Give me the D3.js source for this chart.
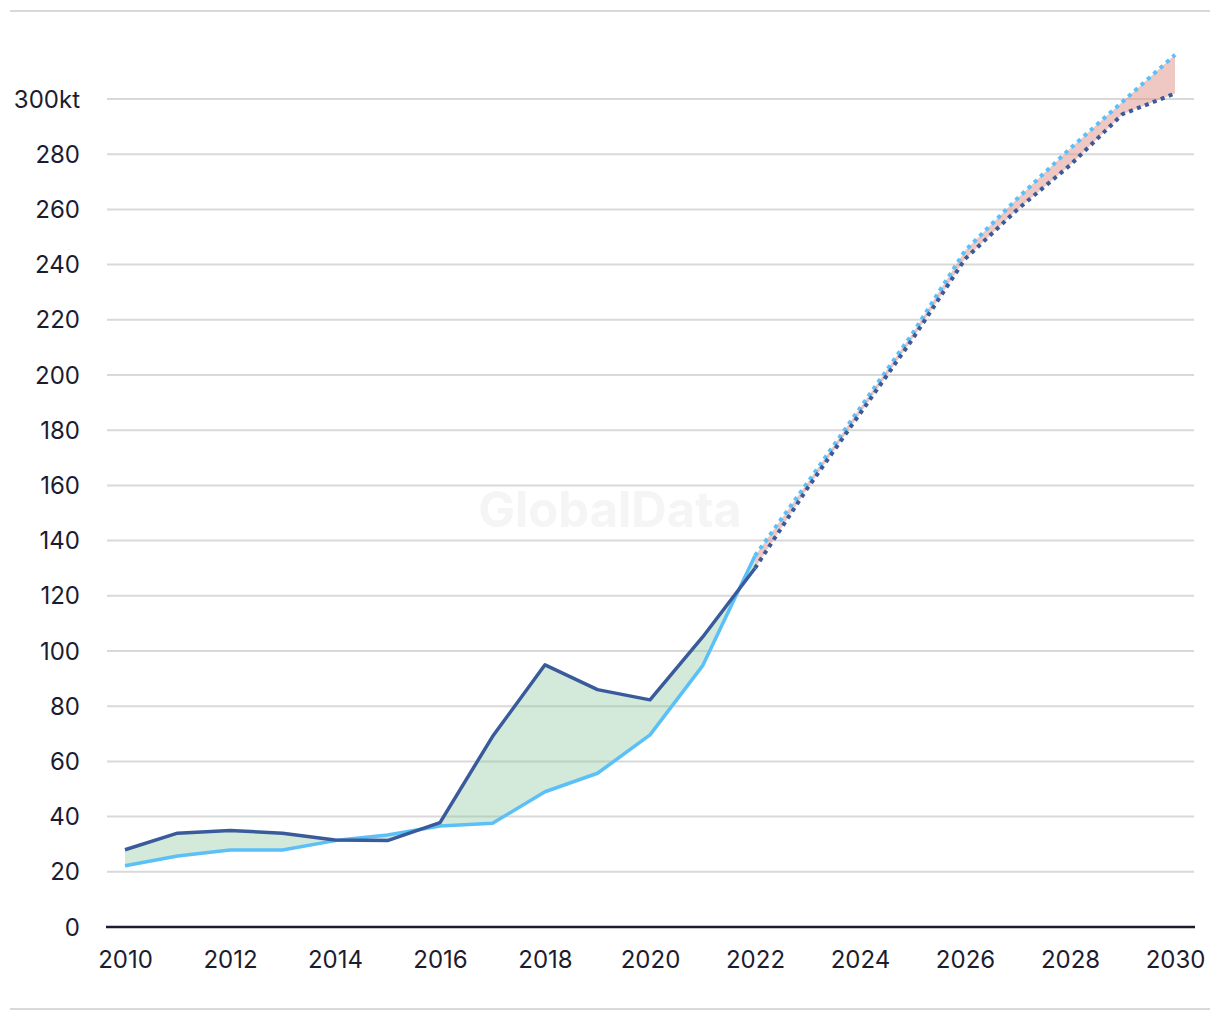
<!DOCTYPE html>
<html><head><meta charset="utf-8">
<script src="https://cdn.jsdelivr.net/npm/d3@7"></script>
<style>
html,body{margin:0;padding:0;background:#fff;}
svg{display:block;font-family:Inter, "Open Sans", sans-serif;}
</style></head>
<body><svg id="c" width="1220" height="1020"></svg>
<script>
// Historical years and values
const histYears = [2010,2011,2012,2013,2014,2015,2016,2017,2018,2019,2020,2021,2022];
const histDark  = [28,34,35,34,31.5,31.3,37.8,69,95,86,82.3,105,130];
const histLight = [22.2,25.7,27.9,27.9,31.3,33.3,36.6,37.6,49,55.7,69.6,94.6,134.5];
// Forecast years and values
const fcYears = [2022,2023,2024,2025,2026,2027,2028,2029,2030];
const fcDark  = [130,159,186,213,242,260,276,294.5,302];
const fcLight = [134.5,161,188,215,245,264,282,299,316];
// Axis ticks
const yTicks = [0,20,40,60,80,100,120,140,160,180,200,220,240,260,280,300];
const xTicks = [2010,2012,2014,2016,2018,2020,2022,2024,2026,2028,2030];

const svg = d3.select("#c");
const x = d3.scaleLinear().domain([2010,2030]).range([125,1175]);
const y = d3.scaleLinear().domain([0,300]).range([927,99]);

// frame rules
svg.append("line").attr("x1",10).attr("x2",1210).attr("y1",11).attr("y2",11).attr("stroke","#d9d9d9").attr("stroke-width",2);
svg.append("line").attr("x1",10).attr("x2",1210).attr("y1",1009).attr("y2",1009).attr("stroke","#d9d9d9").attr("stroke-width",2);

// gridlines
svg.append("g").selectAll("line").data(yTicks.filter(d=>d>0)).join("line")
  .attr("x1",107).attr("x2",1194).attr("y1",d=>y(d)).attr("y2",d=>y(d))
  .attr("stroke","#d9d9d9").attr("stroke-width",2);

// watermark
svg.append("text").attr("x",610).attr("y",527).attr("text-anchor","middle")
  .attr("font-size",49).attr("font-weight",700).attr("fill","#f5f5f5").text("GlobalData");

// y labels
svg.append("g").selectAll("text").data(yTicks).join("text")
  .attr("x",80).attr("y",d=>y(d)).attr("dy","0.36em").attr("text-anchor","end")
  .attr("font-size",24).attr("fill","#1c1c30")
  .text(d=>d===300?"300kt":d);

// x axis
const xAxis = d3.axisBottom(x).tickValues(xTicks).tickFormat(d3.format("d")).tickSize(0).tickPadding(24);
const gx = svg.append("g").attr("transform","translate(0,927)").call(xAxis);
gx.select(".domain").attr("d","M106,0H1195").attr("stroke","#1c1c30").attr("stroke-width",2.5);
gx.selectAll("text").attr("font-size",24).attr("fill","#1c1c30").attr("font-family","Inter, 'Open Sans', sans-serif");

// fills
const hist = histYears.map((yr,i)=>({yr,a:histDark[i],b:histLight[i]}));
const fc = fcYears.map((yr,i)=>({yr,a:fcDark[i],b:fcLight[i]}));
const area = d3.area().x(d=>x(d.yr)).y0(d=>y(d.b)).y1(d=>y(d.a));
svg.append("path").datum(hist).attr("d",area).attr("fill","#8cc8a0").attr("fill-opacity",0.38);
svg.append("path").datum(fc).attr("d",area).attr("fill","#e08f88").attr("fill-opacity",0.5);

// lines
const lineA = d3.line().x(d=>x(d.yr)).y(d=>y(d.a));
const lineB = d3.line().x(d=>x(d.yr)).y(d=>y(d.b));
svg.append("path").datum(hist).attr("d",lineB).attr("fill","none").attr("stroke","#5bc0f8").attr("stroke-width",3.5).attr("stroke-linejoin","round");
svg.append("path").datum(hist).attr("d",lineA).attr("fill","none").attr("stroke","#3a5b9b").attr("stroke-width",3.5).attr("stroke-linejoin","round");
svg.append("path").datum(fc).attr("d",lineB).attr("fill","none").attr("stroke","#5bc0f8").attr("stroke-width",4).attr("stroke-dasharray","4,4.5");
svg.append("path").datum(fc).attr("d",lineA).attr("fill","none").attr("stroke","#3a5b9b").attr("stroke-width",4).attr("stroke-dasharray","4,4.5");
</script></body></html>
